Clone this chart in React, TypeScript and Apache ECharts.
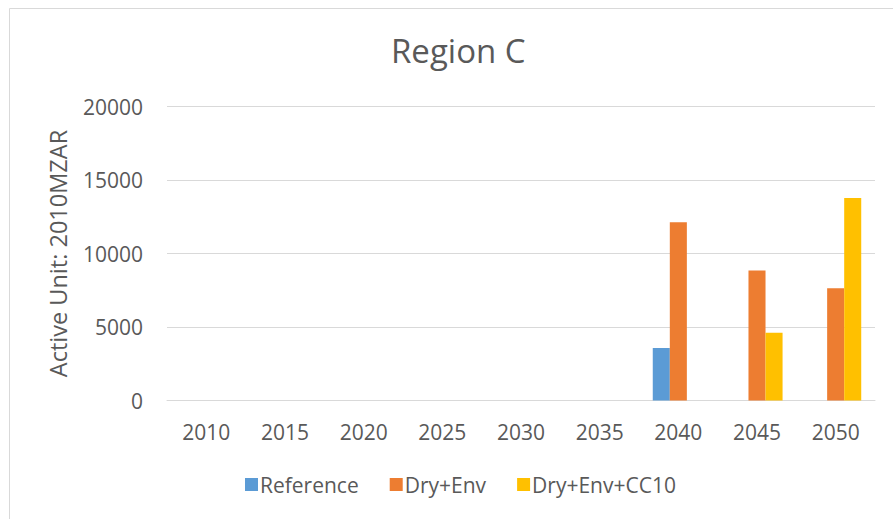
import React, { useEffect, useRef } from "react";
import * as echarts from "echarts";

const categories = ["2010", "2015", "2020", "2025", "2030", "2035", "2040", "2045", "2050"];
const referenceValues = [null, null, null, null, null, null, 3570, null, null];
const dryEnvValues = [null, null, null, null, null, null, 12120, 8850, 7630];
const dryEnvCC10Values = [null, null, null, null, null, null, null, 4610, 13780];
const yTicks = [0, 5000, 10000, 15000, 20000];

const FONT = "Open Sans";
const TEXT = "#595959";

export default function App() {
  const ref = useRef<HTMLDivElement>(null);
  useEffect(() => {
    document.body.style.margin = "0";
    if (!ref.current) return;
    const chart = echarts.init(ref.current, null, { renderer: "svg" });
    chart.setOption({
      animation: false,
      backgroundColor: "#ffffff",
      textStyle: { fontFamily: FONT, color: TEXT },
      title: {
        text: "Region C",
        left: 386,
        top: 29,
        textStyle: { fontFamily: FONT, fontSize: 33, fontWeight: "normal", color: TEXT },
      },
      graphic: [
        {
          type: "rect",
          shape: { x: 9.5, y: 8.5, width: 900, height: 520 },
          style: { fill: "none", stroke: "#d9d9d9", lineWidth: 1 },
          silent: true,
        },
      ],
      legend: {
        left: 240,
        top: 469,
        itemWidth: 13,
        itemHeight: 13,
        itemGap: 31,
        icon: "rect",
        textStyle: { fontFamily: FONT, fontSize: 21, color: TEXT, padding: [0, 0, 0, -3] },
        data: ["Reference", "Dry+Env", "Dry+Env+CC10"],
      },
      grid: { left: 167, right: 18, top: 106.5, bottom: 118.5 },
      xAxis: {
        type: "category",
        data: categories,
        axisLine: { lineStyle: { color: "#d9d9d9", width: 1 } },
        axisTick: { show: false },
        axisLabel: { fontFamily: FONT, fontSize: 21, color: TEXT, margin: 21 },
      },
      yAxis: {
        type: "value",
        min: yTicks[0],
        max: yTicks[yTicks.length - 1],
        interval: 5000,
        name: "Active Unit: 2010MZAR",
        nameLocation: "middle",
        nameRotate: 90,
        nameGap: 97,
        nameTextStyle: { fontFamily: FONT, fontSize: 23.5, color: TEXT },
        axisLine: { show: false },
        axisTick: { show: false },
        axisLabel: {
          fontFamily: FONT,
          fontSize: 21,
          color: TEXT,
          margin: 24,
          formatter: (v: number) => String(v),
        },
        splitLine: { lineStyle: { color: "#d9d9d9", width: 1 } },
      },
      series: [
        {
          name: "Reference",
          type: "bar",
          data: referenceValues,
          itemStyle: { color: "#5B9BD5" },
          barGap: "0%",
          barCategoryGap: "35%",
        },
        {
          name: "Dry+Env",
          type: "bar",
          data: dryEnvValues,
          itemStyle: { color: "#ED7D31" },
          barGap: "0%",
          barCategoryGap: "35%",
        },
        {
          name: "Dry+Env+CC10",
          type: "bar",
          data: dryEnvCC10Values,
          itemStyle: { color: "#FFC000" },
          barGap: "0%",
          barCategoryGap: "35%",
        },
      ],
    });
    return () => chart.dispose();
  }, []);
  return <div ref={ref} style={{ width: 893, height: 519 }} />;
}
